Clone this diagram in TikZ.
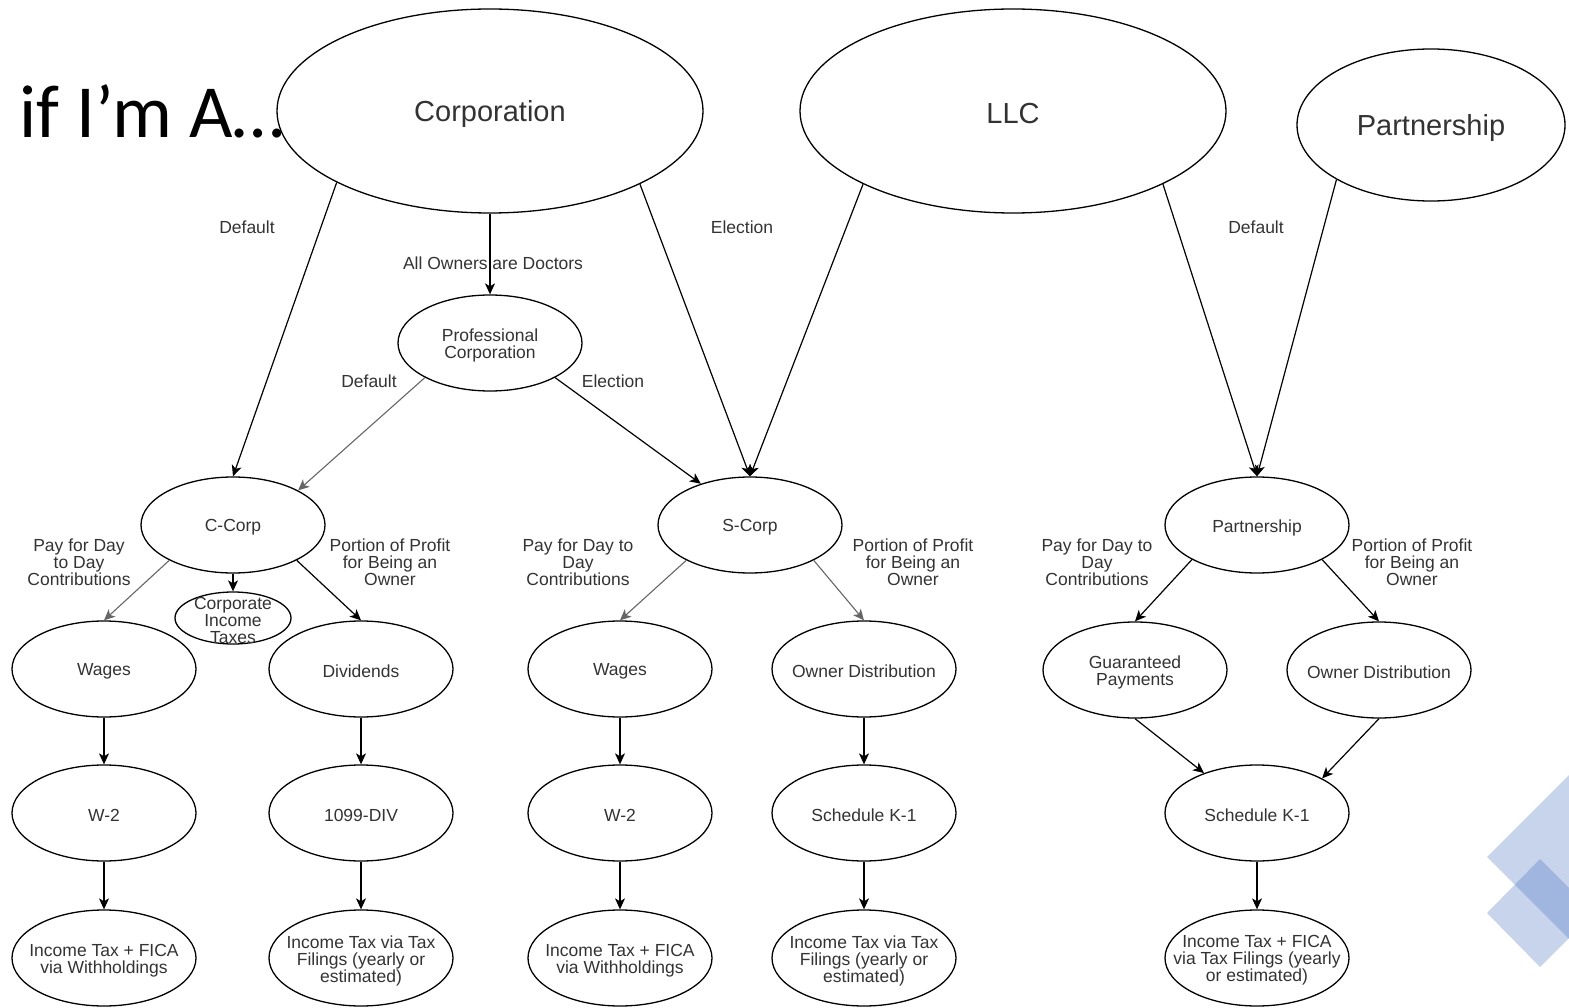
\documentclass[tikz,border=0pt]{standalone}
\usepackage{fontspec}
\setmainfont{Liberation Sans}
\newfontfamily\calib{Carlito}
\usetikzlibrary{shapes.geometric,arrows.meta}
\definecolor{txt}{RGB}{51,51,51}
\definecolor{diam}{RGB}{65,108,191}
\begin{document}
\begin{tikzpicture}[x=1pt,y=-1pt,
  ell/.style={draw, ellipse, line width=1.3pt, inner sep=0pt, minimum width=184pt, minimum height=96pt},
  bigell/.style={draw, ellipse, line width=1.3pt, inner sep=0pt},
  ntext/.style={text=txt, font=\fontsize{17.5}{17}\selectfont, align=center, inner sep=0pt, yshift=-2.5pt},
  btext/.style={text=txt, font=\fontsize{29}{30}\selectfont, inner sep=0pt, yshift=-3pt},
  lbl/.style={text=txt, font=\fontsize{17.5}{17}\selectfont, align=center, inner sep=0pt, yshift=-1.5pt},
  arr/.style={-{Stealth[length=11pt,width=10pt,inset=3pt]}, line width=1.2pt},
  garr/.style={arr, draw=black!60, line width=1.1pt}
]
\useasboundingbox (0,0) rectangle (1569,1008);

% decorative diamonds
\begin{scope}
  \clip (0,0) rectangle (1569,1008);
  \fill[diam, fill opacity=0.29] (1487,857) -- (1587,757) -- (1687,857) -- (1587,957) -- cycle;
  \fill[diam, fill opacity=0.29] (1540,859) -- (1594,913) -- (1540,967) -- (1487,913) -- cycle;
\end{scope}

% top level
\node[bigell, minimum width=426pt, minimum height=204pt, label={[btext]center:Corporation}] (corp) at (490,111) {};
\node[bigell, minimum width=426pt, minimum height=204pt, label={[btext]center:LLC}] (llc) at (1013,111) {};
\node[bigell, minimum width=268pt, minimum height=152pt, label={[btext]center:Partnership}] (ptop) at (1431,125) {};

\node[anchor=base west, font=\calib\fontsize{75}{75}\selectfont, inner sep=0pt] (title) at (19,138) {if I’m A…};

% middle level
\node[ell, label={[ntext]center:{Professional\\Corporation}}] (prof) at (490,343) {};
\node[ell, label={[ntext]center:C-Corp}] (ccorp) at (233,525) {};
\node[ell, label={[ntext]center:S-Corp}] (scorp) at (750,525) {};
\node[ell, label={[ntext]center:Partnership}] (pship) at (1257,525) {};
\node[ell, minimum width=116pt, minimum height=52pt, label={[ntext]center:{Corporate\\Income\\Taxes}}] (cit) at (233,618) {};

% income types
\node[ell, label={[ntext]center:Wages}] (cwage) at (104,669) {};
\node[ell, label={[ntext]center:Dividends}] (div) at (361,669) {};
\node[ell, label={[ntext]center:Wages}] (swage) at (620,669) {};
\node[ell, label={[ntext]center:Owner Distribution}] (sown) at (864,669) {};
\node[ell, label={[ntext]center:{Guaranteed\\Payments}}] (guar) at (1135,670) {};
\node[ell, label={[ntext]center:Owner Distribution}] (pown) at (1379,670) {};

% forms
\node[ell, label={[ntext]center:W-2}] (cw2) at (104,813) {};
\node[ell, label={[ntext]center:1099-DIV}] (c1099) at (361,813) {};
\node[ell, label={[ntext]center:W-2}] (sw2) at (620,813) {};
\node[ell, label={[ntext]center:Schedule K-1}] (sk1) at (864,813) {};
\node[ell, label={[ntext]center:Schedule K-1}] (pk1) at (1257,813) {};

% taxes
\node[ell, label={[ntext]center:{Income Tax + FICA\\via Withholdings}}] (ctax1) at (104,958) {};
\node[ell, label={[ntext]center:{Income Tax via Tax\\Filings (yearly or\\estimated)}}] (ctax2) at (361,958) {};
\node[ell, label={[ntext]center:{Income Tax + FICA\\via Withholdings}}] (stax1) at (620,958) {};
\node[ell, label={[ntext]center:{Income Tax via Tax\\Filings (yearly or\\estimated)}}] (stax2) at (864,958) {};
\node[ell, label={[ntext]center:{Income Tax + FICA\\via Tax Filings (yearly\\or estimated)}}] (ptax) at (1257,958) {};

% connectors from top level
\draw[arr] (corp.205) -- (ccorp.north);
\draw[arr] (corp.south) -- (prof.north);
\draw[arr] (corp.334) -- (scorp.north);
\draw[arr] (llc.206) -- (scorp.north);
\draw[arr] (llc.334) -- (pship.north);
\draw[arr] (ptop.210) -- (pship.north);

\draw[garr] (prof.208) -- (ccorp.28);
\draw[arr] (prof.332) -- (scorp.140);

% second level
\draw[garr] (ccorp.209) -- (cwage.north);
\draw[arr] (ccorp.south) -- (cit.north);
\draw[arr] (ccorp.331) -- (div.north);
\draw[garr] (scorp.209) -- (swage.north);
\draw[garr] (scorp.331) -- (sown.north);
\draw[arr] (pship.208) -- (guar.north);
\draw[arr] (pship.332) -- (pown.north);

% vertical chains
\draw[arr] (cwage.south) -- (cw2.north);
\draw[arr] (cw2.south) -- (ctax1.north);
\draw[arr] (div.south) -- (c1099.north);
\draw[arr] (c1099.south) -- (ctax2.north);
\draw[arr] (swage.south) -- (sw2.north);
\draw[arr] (sw2.south) -- (stax1.north);
\draw[arr] (sown.south) -- (sk1.north);
\draw[arr] (sk1.south) -- (stax2.north);
\draw[arr] (guar.south) -- (pk1.143);
\draw[arr] (pown.south) -- (pk1.28);
\draw[arr] (pk1.south) -- (ptax.north);

% edge labels
\node[lbl] (l1) at (247,226) {Default};
\node[lbl] (l2) at (493,262) {All Owners are Doctors};
\node[lbl] (l3) at (742,226) {Election};
\node[lbl] (l4) at (1256,226) {Default};
\node[lbl] (l5) at (369,380) {Default};
\node[lbl] (l6) at (613,380) {Election};
\node[lbl] (l7) at (79,561) {Pay for Day\\to Day\\Contributions};
\node[lbl] (l8) at (390,561) {Portion of Profit\\for Being an\\Owner};
\node[lbl] (l9) at (578,561) {Pay for Day to\\Day\\Contributions};
\node[lbl] (l10) at (913,561) {Portion of Profit\\for Being an\\Owner};
\node[lbl] (l11) at (1097,561) {Pay for Day to\\Day\\Contributions};
\node[lbl] (l12) at (1412,561) {Portion of Profit\\for Being an\\Owner};
\end{tikzpicture}
\end{document}
